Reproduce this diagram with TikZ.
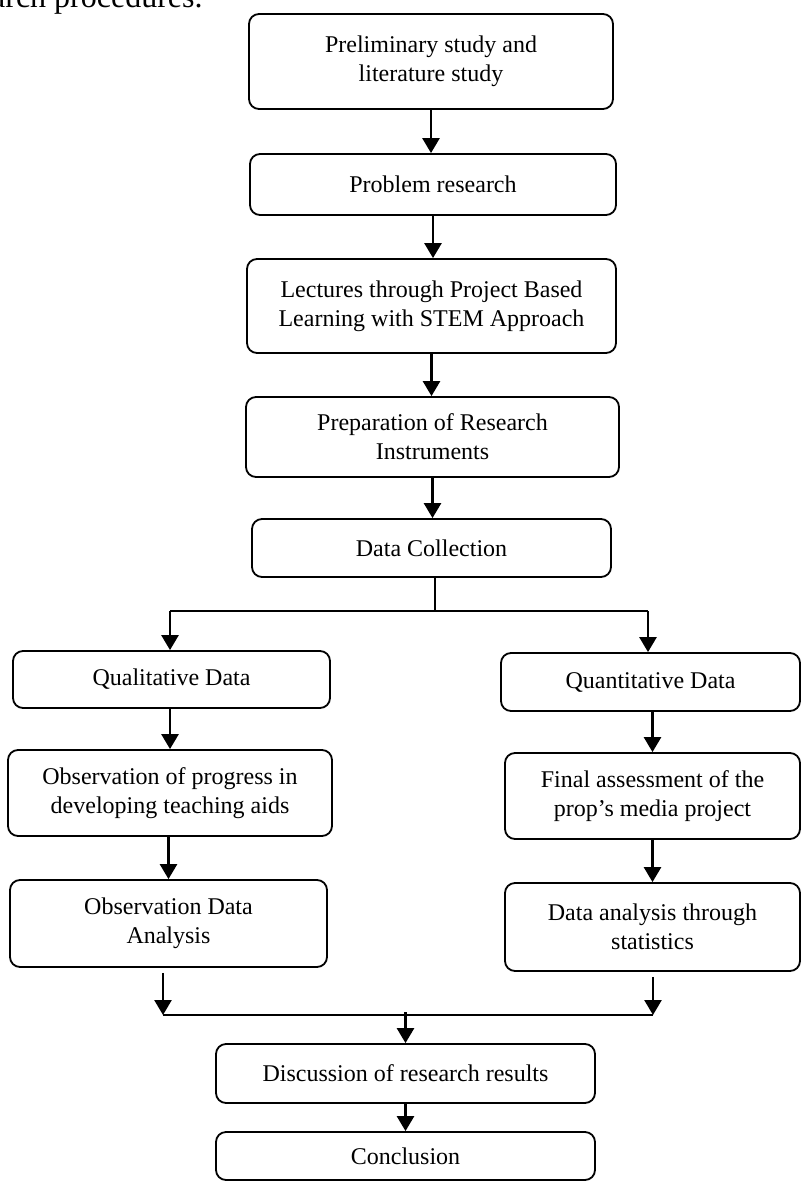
\documentclass[tikz,border=0pt]{standalone}
\usepackage{fontspec}
\setmainfont{Liberation Serif}
\usetikzlibrary{arrows.meta}

\begin{document}
\begin{tikzpicture}[x=0.5pt,y=-0.5pt,
  stepbox/.style={draw, rounded corners=5pt, line width=0.9pt, align=center, inner sep=0pt, font=\fontsize{12}{14.5}\selectfont},
  flow/.style={line width=1.3pt, -{Triangle[width=8.5pt,length=7.5pt]}},
  joint/.style={line width=0.8pt}]
\useasboundingbox (0,0) rectangle (802,1182);
\node[anchor=base east, inner sep=0pt, font=\fontsize{16}{19}\selectfont] (0) at (203,8) {research procedures.};

\node[stepbox, minimum width=182pt, minimum height=47.5pt] (1) at (431,61.5) {Preliminary study and\\literature study};
\node[stepbox, minimum width=183pt, minimum height=30.5pt] (2) at (433,184.5) {Problem research};
\node[stepbox, minimum width=184.5pt, minimum height=47pt] (3) at (431.5,306) {Lectures through Project Based\\Learning with STEM Approach};
\node[stepbox, minimum width=186.5pt, minimum height=40pt] (4) at (432.5,437) {Preparation of Research\\Instruments};
\node[stepbox, minimum width=179.5pt, minimum height=29pt] (5) at (431.5,548) {Data Collection};
\node[stepbox, minimum width=158.5pt, minimum height=28.5pt] (6) at (171.5,679.5) {Qualitative Data};
\node[stepbox, minimum width=162pt, minimum height=43pt] (7) at (170,793) {Observation of progress in\\developing teaching aids};
\node[stepbox, minimum width=158.5pt, minimum height=43.5pt] (8) at (168.5,923.5) {Observation Data\\Analysis};
\node[stepbox, minimum width=149.5pt, minimum height=29pt] (9) at (650.5,682) {Quantitative Data};
\node[stepbox, minimum width=147.5pt, minimum height=43pt] (10) at (652.5,796) {Final assessment of the\\prop’s media project};
\node[stepbox, minimum width=147.5pt, minimum height=44pt] (11) at (652.5,927) {Data analysis through\\statistics};
\node[stepbox, minimum width=189.5pt, minimum height=29.5pt] (12) at (405.5,1073.5) {Discussion of research results};
\node[stepbox, minimum width=189.5pt, minimum height=24pt] (13) at (405.5,1156) {Conclusion};

\coordinate (s) at (435,611);
\coordinate (sl) at (170,611);
\coordinate (sr) at (648,611);
\coordinate (ml) at (163,1015);
\coordinate (mr) at (653,1015);

\draw[flow] (1.south) -- (1.south |- 2.north);
\draw[flow] (2.south) -- (2.south |- 3.north);
\draw[flow] (3.south) -- (3.south |- 4.north);
\draw[flow] (4.south) -- (4.south |- 5.north);
\draw[joint] (5.south -| s) -- (s);
\draw[joint] (sl) -- (sr);
\draw[flow] (sl) -- (6.north -| sl);
\draw[flow] (sr) -- (9.north -| sr);
\draw[flow] (7.north |- 6.south) -- (7.north);
\draw[flow] (8.north |- 7.south) -- (8.north);
\draw[flow] (10.north |- 9.south) -- (10.north);
\draw[flow] (11.north |- 10.south) -- (11.north);
\draw[flow, shorten <=2.5pt] (8.south -| ml) -- (ml);
\draw[flow, shorten <=2.5pt] (11.south -| mr) -- (mr);
\draw[joint] (ml) -- (mr);
\draw[flow, shorten <=-1.5pt] (ml -| 12.north) -- (12.north);
\draw[flow] (12.south) -- (13.north);
\end{tikzpicture}
\end{document}
